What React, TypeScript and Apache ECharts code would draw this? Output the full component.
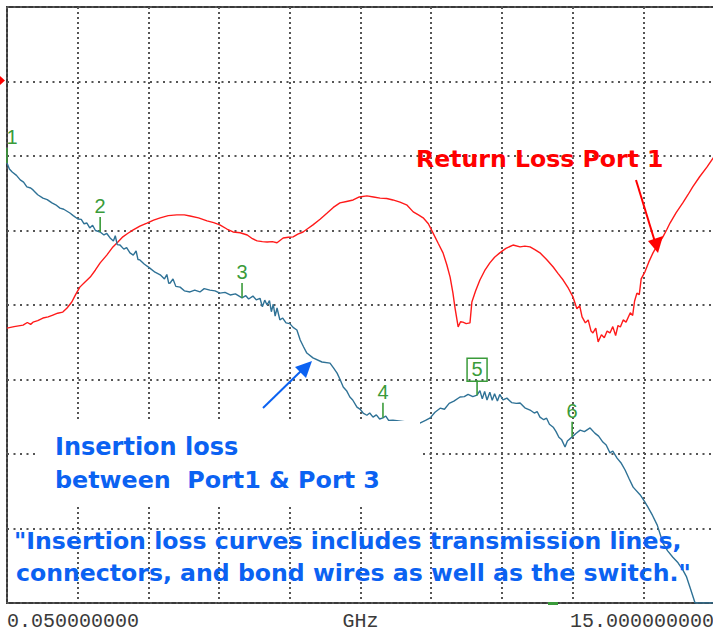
import { useEffect, useRef } from "react";
import * as echarts from "echarts";

// Insertion loss Port1 -> Port3: [frequency GHz, dB]
const insertionLoss: [number, number][] = [
  [0.05, -4.19], [0.10, -4.35], [0.16, -4.43], [0.25, -4.52], [0.33, -4.64], [0.40, -4.70],
  [0.47, -4.83], [0.55, -4.86], [0.60, -4.91], [0.70, -5.04], [0.81, -5.13], [0.90, -5.17],
  [1.00, -5.26], [1.08, -5.31], [1.17, -5.40], [1.25, -5.43], [1.38, -5.53], [1.45, -5.60],
  [1.55, -5.69], [1.62, -5.70], [1.68, -5.82], [1.74, -5.80], [1.80, -5.93], [1.86, -5.86],
  [1.92, -6.00], [2.02, -6.04], [2.10, -6.12], [2.16, -6.08], [2.23, -6.20], [2.30, -6.28],
  [2.34, -6.14], [2.38, -6.38], [2.44, -6.39], [2.52, -6.50], [2.58, -6.46], [2.65, -6.60],
  [2.72, -6.66], [2.78, -6.55], [2.82, -6.78], [2.86, -6.79], [2.95, -6.90], [3.07, -7.01],
  [3.18, -7.12], [3.29, -7.19], [3.38, -7.30], [3.43, -7.18], [3.47, -7.42], [3.50, -7.41],
  [3.56, -7.30], [3.62, -7.50], [3.71, -7.52], [3.80, -7.62], [3.92, -7.65], [4.02, -7.60],
  [4.13, -7.65], [4.22, -7.56], [4.34, -7.60], [4.45, -7.62], [4.55, -7.68], [4.66, -7.66],
  [4.77, -7.73], [4.88, -7.70], [5.02, -7.81], [5.10, -7.75], [5.16, -7.84], [5.25, -7.76],
  [5.32, -7.86], [5.40, -7.82], [5.45, -8.05], [5.50, -7.87], [5.55, -8.00], [5.60, -7.88],
  [5.64, -8.18], [5.68, -7.98], [5.72, -8.30], [5.76, -8.08], [5.82, -8.40], [5.88, -8.35],
  [5.95, -8.48], [6.03, -8.50], [6.10, -8.60], [6.18, -8.67], [6.25, -8.94], [6.32, -9.12],
  [6.39, -9.29], [6.52, -9.42], [6.71, -9.53], [6.88, -9.56], [6.95, -9.68], [7.03, -9.83],
  [7.10, -10.02], [7.16, -10.20], [7.23, -10.30], [7.30, -10.47], [7.36, -10.55], [7.45, -10.74],
  [7.52, -10.80], [7.58, -10.90], [7.66, -10.96], [7.72, -10.90], [7.79, -11.01], [7.86, -10.95],
  [7.93, -11.06], [8.00, -11.03], [8.06, -10.98], [8.12, -11.10], [8.21, -11.09], [8.50, -11.14],
  [8.78, -11.17], [8.90, -11.10], [9.00, -11.03], [9.10, -10.88], [9.21, -10.77], [9.30, -10.80],
  [9.40, -10.64], [9.50, -10.58], [9.63, -10.47], [9.72, -10.46], [9.80, -10.40], [9.90, -10.46],
  [9.99, -10.42], [10.05, -10.30], [10.10, -10.52], [10.15, -10.32], [10.20, -10.55], [10.26, -10.34],
  [10.31, -10.56], [10.36, -10.38], [10.42, -10.58], [10.47, -10.40], [10.54, -10.55], [10.62, -10.50],
  [10.72, -10.62], [10.82, -10.64], [10.90, -10.63], [11.00, -10.76], [11.11, -10.82], [11.20, -10.90],
  [11.26, -10.86], [11.32, -11.01], [11.40, -11.08], [11.46, -11.04], [11.52, -11.20], [11.60, -11.28],
  [11.66, -11.40], [11.72, -11.55], [11.78, -11.62], [11.85, -11.81], [11.90, -11.65], [12.00, -11.54],
  [12.08, -11.45], [12.17, -11.36], [12.26, -11.40], [12.38, -11.30], [12.48, -11.44], [12.56, -11.52],
  [12.65, -11.68], [12.72, -11.76], [12.80, -11.97], [12.86, -11.92], [12.95, -12.11], [13.04, -12.25],
  [13.12, -12.43], [13.20, -12.65], [13.29, -12.89], [13.44, -13.10], [13.52, -13.25], [13.60, -13.42],
  [13.70, -13.65], [13.80, -13.91], [13.92, -14.39], [14.02, -14.60], [14.13, -14.77], [14.24, -14.92],
  [14.34, -15.11], [14.42, -15.30], [14.49, -15.57], [14.60, -16.0], [15.0, -16.0],
];

// Return loss Port 1: [frequency GHz, dB]
const returnLoss: [number, number][] = [
  [0.05, -8.62], [0.20, -8.58], [0.39, -8.54], [0.48, -8.47], [0.55, -8.52], [0.60, -8.46],
  [0.70, -8.42], [0.81, -8.35], [0.92, -8.32], [1.02, -8.27], [1.12, -8.22], [1.23, -8.19],
  [1.32, -8.08], [1.42, -7.92], [1.50, -7.72], [1.59, -7.52], [1.70, -7.38], [1.81, -7.25],
  [1.92, -7.06], [2.02, -6.87], [2.16, -6.66], [2.29, -6.44], [2.40, -6.30], [2.50, -6.17],
  [2.60, -6.08], [2.71, -5.99], [2.86, -5.88], [3.01, -5.80], [3.15, -5.72], [3.29, -5.66],
  [3.46, -5.60], [3.64, -5.58], [3.80, -5.58], [3.92, -5.61], [4.10, -5.66], [4.28, -5.74],
  [4.42, -5.79], [4.55, -5.85], [4.70, -5.96], [4.83, -6.04], [4.98, -6.06], [5.13, -6.12],
  [5.24, -6.22], [5.34, -6.28], [5.45, -6.30], [5.55, -6.31], [5.66, -6.30], [5.76, -6.33],
  [5.89, -6.20], [6.00, -6.18], [6.10, -6.17], [6.20, -6.10], [6.31, -6.04], [6.42, -5.94],
  [6.52, -5.85], [6.67, -5.70], [6.82, -5.53], [6.95, -5.38], [7.09, -5.26], [7.23, -5.22],
  [7.37, -5.18], [7.50, -5.10], [7.66, -5.07], [7.80, -5.10], [7.94, -5.13], [8.08, -5.14],
  [8.21, -5.18], [8.36, -5.24], [8.51, -5.32], [8.64, -5.50], [8.75, -5.58], [8.85, -5.66],
  [8.96, -5.82], [9.06, -6.07], [9.17, -6.35], [9.27, -6.60], [9.35, -6.92], [9.42, -7.25],
  [9.48, -7.68], [9.52, -8.05], [9.56, -8.36], [9.59, -8.59], [9.64, -8.45], [9.69, -8.46],
  [9.76, -8.50], [9.84, -8.48], [9.88, -7.92], [9.96, -7.62], [10.05, -7.33], [10.15, -7.08],
  [10.26, -6.87], [10.36, -6.72], [10.47, -6.60], [10.60, -6.48], [10.75, -6.39], [10.90, -6.44],
  [11.00, -6.42], [11.11, -6.44], [11.22, -6.52], [11.32, -6.60], [11.46, -6.78], [11.60, -6.98],
  [11.70, -7.15], [11.81, -7.33], [11.92, -7.55], [12.02, -7.79], [12.10, -8.10], [12.16, -8.02],
  [12.21, -8.32], [12.28, -8.48], [12.34, -8.40], [12.40, -8.70], [12.44, -8.75], [12.50, -8.62],
  [12.55, -8.99], [12.62, -8.80], [12.68, -8.88], [12.74, -8.70], [12.80, -8.75], [12.86, -8.58],
  [12.92, -8.82], [12.97, -8.55], [13.02, -8.59], [13.08, -8.40], [13.14, -8.46], [13.23, -8.21],
  [13.28, -8.28], [13.32, -7.90], [13.37, -7.68], [13.42, -7.72], [13.46, -7.30], [13.54, -7.11],
  [13.62, -6.85], [13.71, -6.60], [13.80, -6.40], [13.92, -6.17], [14.00, -5.98], [14.07, -5.80],
  [14.20, -5.52], [14.34, -5.26], [14.45, -5.04], [14.55, -4.83], [14.70, -4.55], [14.85, -4.30],
  [15.00, -4.02],
];

// Markers on the insertion loss trace
const markerNames = ["1", "2", "3", "4", "5", "6"];
const markerFreq = [0.05, 2.02, 5.02, 8.0, 9.99, 12.0];
const markerLoss = [-4.19, -6.04, -7.81, -11.03, -10.42, -11.54];
const activeMarker = 4;

const freqStart = 0.05;
const freqStop = 15;
const freqUnit = "GHz";
const startLabel = "0.050000000";
const stopLabel = "15.000000000";

const noteInsertion = ["Insertion loss", "between  Port1 & Port 3"];
const noteReturn = "Return Loss Port 1";
const noteQuote = [
  "\"Insertion loss curves includes transmission lines,",
  "connectors, and bond wires as well as the switch.\"",
];

const GREEN = "#3a9b3a";
const BLUE_TEXT = "#0b62f2";
const RED = "#ff1a1a";
const TRACE_BLUE = "#2f7296";
const GRID_DOT = "#555555";
const AXIS_TEXT = "#3a3a3a";

export default function App() {
  const ref = useRef<HTMLDivElement>(null);

  useEffect(() => {
    if (!ref.current) return;
    const chart = echarts.init(ref.current, undefined, { renderer: "svg" });
    const boldFont = (size: number) => `bold ${size}px "DejaVu Sans"`;

    chart.setOption({
      animation: false,
      backgroundColor: "#ffffff",
      grid: {
        left: 7,
        top: 7,
        right: -1,
        bottom: 28,
        containLabel: false,
        outerBoundsMode: "none",
        show: true,
        borderColor: "#3a3a3a",
        borderWidth: 2,
        backgroundColor: "transparent",
      },
      xAxis: [
        {
          type: "value",
          min: freqStart,
          max: freqStop,
          axisLine: { show: false },
          axisTick: { show: false },
          splitLine: { show: false },
          axisLabel: {
            show: true,
            showMinLabel: true,
            showMaxLabel: true,
            alignMinLabel: "left",
            alignMaxLabel: "right",
            margin: 8,
            fontFamily: "Liberation Mono",
            fontSize: 20,
            color: AXIS_TEXT,
            formatter: (v: number) =>
              Math.abs(v - freqStart) < 1e-9 ? startLabel : Math.abs(v - freqStop) < 1e-9 ? stopLabel : "",
          },
          name: freqUnit,
          nameLocation: "middle",
          nameGap: 8,
          nameMoveOverlap: false,
          nameTextStyle: {
            fontFamily: "Liberation Mono",
            fontSize: 20,
            color: AXIS_TEXT,
            verticalAlign: "top",
          },
        },
        {
          type: "value",
          position: "top",
          min: 0,
          max: 10,
          interval: 1,
          axisLine: { show: false },
          axisTick: { show: false },
          axisLabel: { show: false },
          splitLine: {
            show: true,
            lineStyle: { color: GRID_DOT, width: 2, type: [2, 3] },
          },
        },
      ],
      yAxis: {
        type: "value",
        min: -16,
        max: 0,
        interval: 2,
        axisLine: { show: false },
        axisTick: { show: false },
        axisLabel: { show: false },
        splitLine: {
          show: true,
          lineStyle: { color: GRID_DOT, width: 2, type: [2, 4.5] },
        },
      },
      series: [
        {
          type: "line",
          name: "Return Loss",
          xAxisIndex: 0,
          data: returnLoss,
          showSymbol: false,
          lineStyle: { color: RED, width: 1.4 },
          z: 3,
        },
        {
          type: "line",
          name: "Insertion Loss",
          xAxisIndex: 0,
          data: insertionLoss,
          showSymbol: false,
          lineStyle: { color: TRACE_BLUE, width: 1.4 },
          z: 4,
        },
        {
          type: "custom",
          name: "Markers",
          xAxisIndex: 0,
          z: 5,
          clip: false,
          data: markerFreq.map((f, i) => [f, markerLoss[i], i]),
          renderItem: (_params: any, api: any) => {
            const p = api.coord([api.value(0), api.value(1)]);
            const i = api.value(2);
            const lx = Math.max(p[0], 12);
            const children: any[] = [
              {
                type: "line",
                shape: { x1: p[0], y1: p[1] - 15, x2: p[0], y2: p[1] },
                style: { stroke: GREEN, lineWidth: 1.6 },
              },
              {
                type: "text",
                style: {
                  text: markerNames[i],
                  x: lx,
                  y: p[1] - 26,
                  align: "center",
                  verticalAlign: "middle",
                  textAlign: "center",
                  textVerticalAlign: "middle",
                  fill: GREEN,
                  font: '20px "Liberation Sans"',
                },
              },
            ];
            if (i === activeMarker) {
              children.push({
                type: "rect",
                shape: { x: p[0] - 10, y: p[1] - 37, width: 20, height: 23 },
                style: { fill: "none", stroke: GREEN, lineWidth: 1.5 },
              });
            }
            return { type: "group", children };
          },
        },
      ],
      graphic: [
        // reference level marker
        {
          type: "polygon",
          z: 100,
          shape: { points: [[0, 76], [5, 80.5], [0, 85]] },
          style: { fill: "#ff0000" },
        },
        // small marker indicator on bottom edge
        {
          type: "rect",
          z: 100,
          shape: { x: 548, y: 602, width: 10, height: 3 },
          style: { fill: GREEN },
        },
        // white box behind insertion loss note
        {
          type: "rect",
          z: 100,
          shape: { x: 35, y: 421, width: 385, height: 85 },
          style: { fill: "#ffffff" },
        },
        {
          type: "text",
          z: 101,
          x: 55,
          y: 447,
          style: {
            text: noteInsertion[0],
            fill: BLUE_TEXT,
            font: boldFont(24),
            textVerticalAlign: "middle",
            verticalAlign: "middle",
          },
        },
        {
          type: "text",
          z: 101,
          x: 55,
          y: 480,
          style: {
            text: noteInsertion[1],
            fill: BLUE_TEXT,
            font: boldFont(23.8),
            textVerticalAlign: "middle",
            verticalAlign: "middle",
          },
        },
        {
          type: "text",
          z: 101,
          x: 14,
          y: 541,
          style: {
            text: noteQuote[0],
            fill: BLUE_TEXT,
            font: boldFont(23.6),
            textVerticalAlign: "middle",
            verticalAlign: "middle",
          },
        },
        {
          type: "text",
          z: 101,
          x: 16,
          y: 573,
          style: {
            text: noteQuote[1],
            fill: BLUE_TEXT,
            font: boldFont(23.6),
            textVerticalAlign: "middle",
            verticalAlign: "middle",
          },
        },
        {
          type: "text",
          z: 101,
          x: 416,
          y: 159,
          style: {
            text: noteReturn,
            fill: "#ff0000",
            font: boldFont(23.6),
            textVerticalAlign: "middle",
            verticalAlign: "middle",
          },
        },
        // blue arrow
        {
          type: "line",
          z: 101,
          shape: { x1: 263, y1: 408, x2: 302, y2: 370 },
          style: { stroke: BLUE_TEXT, lineWidth: 2 },
        },
        {
          type: "polygon",
          z: 101,
          shape: { points: [[312, 361], [295, 367], [306, 378]] },
          style: { fill: BLUE_TEXT },
        },
        // red arrow
        {
          type: "line",
          z: 101,
          shape: { x1: 636, y1: 180, x2: 655, y2: 242 },
          style: { stroke: "#ff0000", lineWidth: 2 },
        },
        {
          type: "polygon",
          z: 101,
          shape: { points: [[658, 253], [648, 241], [663, 236]] },
          style: { fill: "#ff0000" },
        },
      ],
    });

    return () => chart.dispose();
  }, []);

  return (
    <div
      ref={ref}
      style={{ position: "fixed", left: 0, top: 0, width: 713, height: 631, background: "#fff" }}
    />
  );
}
